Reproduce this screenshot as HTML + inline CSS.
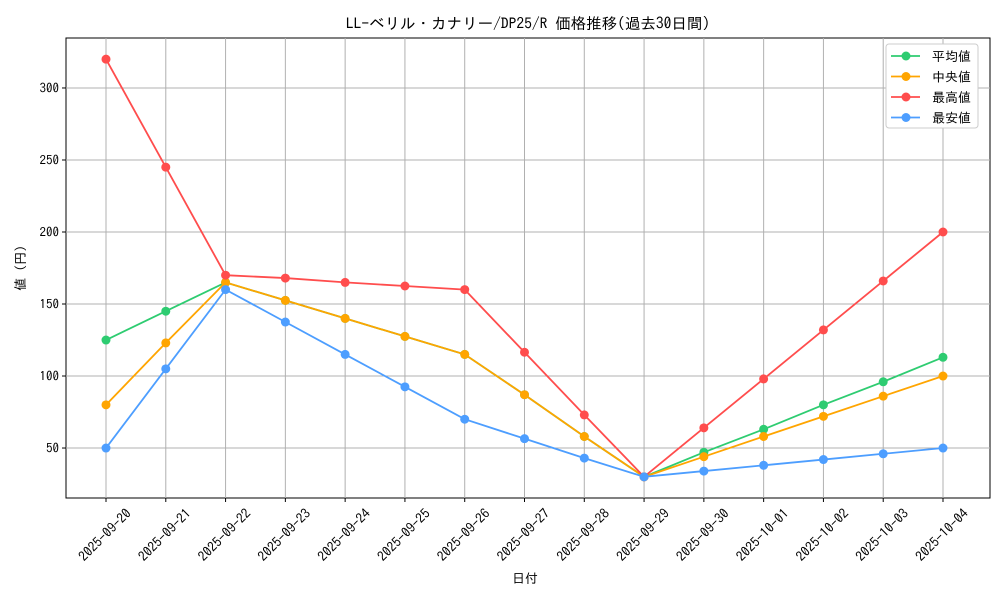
<!DOCTYPE html>
<html><head><meta charset="utf-8"><style>
body{margin:0;background:#fff;}
svg{display:block;font-family:"IPAGothic","Noto Sans CJK JP",monospace;}
</style></head><body>
<svg id="chart" width="1000" height="600"></svg>
<script>
const categories=["2025-09-20","2025-09-21","2025-09-22","2025-09-23","2025-09-24","2025-09-25","2025-09-26","2025-09-27","2025-09-28","2025-09-29","2025-09-30","2025-10-01","2025-10-02","2025-10-03","2025-10-04"];
const avgValues=[125,145,165,152.5,140,127.5,115,87,58,30,47,63,80,96,113];
const medianValues=[80,123,165,152.5,140,127.5,115,87,58,30,44,58,72,86,100];
const maxValues=[320,245,170,168,165,162.5,160,116.5,73,30,64,98,132,166,200];
const minValues=[50,105,160,137.5,115,92.5,70,56.5,43,30,34,38,42,46,50];
const yTicks=[50,100,150,200,250,300];
const seriesNames=["平均値","中央値","最高値","最安値"];
const seriesColors=["#2ecc71","#ffa500","#ff4d4d","#4d9eff"];
const seriesData=[avgValues,medianValues,maxValues,minValues];

const NS="http://www.w3.org/2000/svg";
const svg=document.getElementById('chart');
const L=66,R=990,T=38,B=498;
const yMin=15.3,yMax=334.7;
function xPos(i){return 106+i*(943-106)/(categories.length-1);}
function yPos(v){return B-(v-yMin)/(yMax-yMin)*(B-T);}
function el(tag,attrs,text){const e=document.createElementNS(NS,tag);for(const k in attrs)e.setAttribute(k,attrs[k]);if(text!==undefined)e.textContent=text;svg.appendChild(e);return e;}

let e=el('rect',{x:L,y:T,width:R-L,height:B-T,fill:'#fff',stroke:'#000','stroke-width':1});


categories.forEach((c,i)=>{
  const x=xPos(i);
  let g=el('line',{x1:x,x2:x,y1:T,y2:B,stroke:'#b0b0b0','stroke-width':1});
  
  
  el('line',{x1:x,x2:x,y1:B,y2:B+4,stroke:'#000'});
  let t=el('text',{x:0,y:4.5,'font-size':13.5,'text-anchor':'middle',transform:`translate(${x-1},${B+37}) rotate(-45)`},c);
  
  
});
yTicks.forEach(v=>{
  const y=yPos(v);
  let g=el('line',{x1:L,x2:R,y1:y,y2:y,stroke:'#b0b0b0','stroke-width':1});
  
  
  el('line',{x1:L-4,x2:L,y1:y,y2:y,stroke:'#000'});
  let t=el('text',{x:L-7,y:y+4.5,'font-size':13,'text-anchor':'end'},v);
  
  
});
seriesData.forEach((d,s)=>{
  const pts=d.map((v,i)=>xPos(i)+','+yPos(v)).join(' ');
  let p=el('polyline',{points:pts,fill:'none',stroke:seriesColors[s],'stroke-width':1.8});
  
  
  d.forEach((v,i)=>{
    let c=el('circle',{cx:xPos(i),cy:yPos(v),r:4.5,fill:seriesColors[s]});
    
    
  });
});
let title=el('text',{x:528,y:29,'font-size':15.5,'text-anchor':'middle'},'LL-ベリル・カナリー/DP25/R 価格推移(過去30日間)');


let xt=el('text',{x:525,y:583,'font-size':13,'text-anchor':'middle'},'日付');


let yt=el('text',{x:0,y:0,'font-size':13,'text-anchor':'middle',transform:'translate(25,268) rotate(-90)'},'値 (円)');


let lb=el('rect',{x:886,y:44,width:92,height:84,rx:3,fill:'#fff',stroke:'#ccc'});


seriesNames.forEach((n,s)=>{
  const y=56+s*20.5;
  el('line',{x1:891,x2:920,y1:y,y2:y,stroke:seriesColors[s],'stroke-width':1.8});
  el('circle',{cx:906,cy:y,r:4.5,fill:seriesColors[s]});
  let t=el('text',{x:932,y:y+5,'font-size':13},n);
  
  
});
</script>
</body></html>
